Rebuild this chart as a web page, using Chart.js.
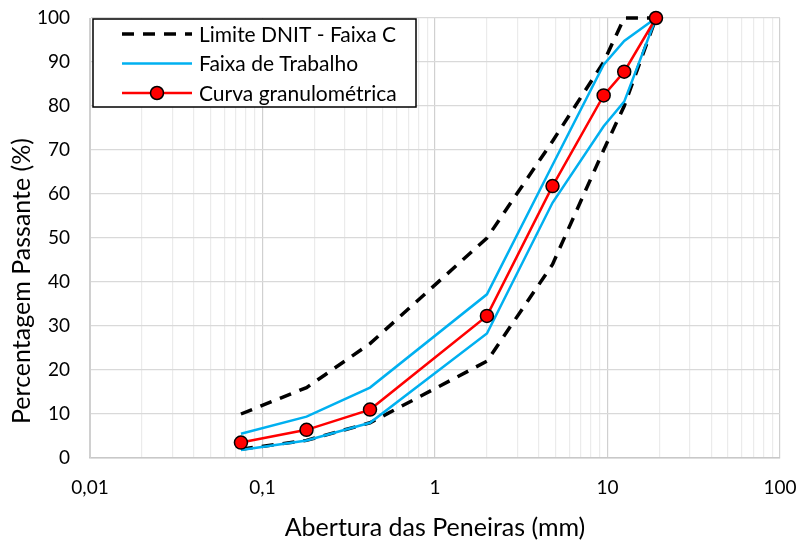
<!DOCTYPE html>
<html>
<head>
<meta charset="utf-8">
<script src="https://cdn.jsdelivr.net/npm/chart.js@4.4.1/dist/chart.umd.min.js"></script>
<style>
  html, body { margin: 0; padding: 0; background: #fff; }
  #wrap { width: 800px; height: 540px; }
</style>
</head>
<body>
<div id="wrap"><canvas id="chart"></canvas></div>
<script>
// Aberturas das peneiras (mm)
var sieves = [0.075, 0.18, 0.42, 2.0, 4.8, 9.5, 12.5, 19.1];
// Limite DNIT - Faixa C
var dnitMin = [2, 4, 8, 22, 44, 70, 80, 100];
var dnitMax = [10, 16, 26, 50, 72, 90, 100, 100];
// Faixa de Trabalho
var faixaMin = [1.8, 4.0, 8.0, 28.3, 58.0, 75.4, 81.0, 100];
var faixaMax = [5.5, 9.4, 16.0, 37.2, 66.6, 89.4, 94.8, 100];
// Curva granulométrica
var curva = [3.5, 6.4, 11.0, 32.3, 61.8, 82.4, 87.8, 100];

var xDecades = [0.01, 0.1, 1, 10, 100];
var xTickLabels = ['0,01', '0,1', '1', '10', '100'];
var yTitle = 'Percentagem Passante (%)';

var FONT = 'Lato, "Open Sans", sans-serif';

function pts(ys) {
  return sieves.map(function (x, i) { return { x: x, y: ys[i] }; });
}

var dashed = { borderColor: '#000', borderWidth: 3.5, borderDash: [12, 9] };
var blue = { borderColor: '#00B0F0', borderWidth: 2.5 };

function line(label, ys, style, order, legendPos) {
  return Object.assign({
    label: label,
    data: pts(ys),
    legendPos: legendPos,
    pointRadius: 0,
    fill: false,
    tension: 0,
    clip: false,
    order: order
  }, style);
}

// Legend drawn inside the plot, top-left, like the original
var insideLegend = {
  id: 'insideLegend',
  afterDraw: function (chart) {
    var ctx = chart.ctx, area = chart.chartArea;
    var items = chart.data.datasets
      .filter(function (d) { return d.legendPos != null; })
      .sort(function (a, b) { return a.legendPos - b.legendPos; });
    var x0 = area.left + 3, y0 = area.top + 1, w = 323, h = 88;
    ctx.save();
    ctx.fillStyle = '#fff';
    ctx.fillRect(x0, y0, w, h);
    ctx.strokeStyle = '#000';
    ctx.lineWidth = 1.5;
    ctx.setLineDash([]);
    ctx.strokeRect(x0, y0, w, h);
    items.forEach(function (d, i) {
      var cy = y0 + 15 + i * 29.5;
      ctx.beginPath();
      ctx.strokeStyle = d.borderColor;
      ctx.lineWidth = d.borderWidth;
      ctx.setLineDash(d.borderDash || []);
      ctx.moveTo(x0 + 29, cy);
      ctx.lineTo(x0 + 99, cy);
      ctx.stroke();
      ctx.setLineDash([]);
      if (d.legendMarker) {
        ctx.beginPath();
        ctx.arc(x0 + 64, cy, d.pointRadius, 0, Math.PI * 2);
        ctx.fillStyle = d.pointBackgroundColor;
        ctx.fill();
        ctx.lineWidth = d.pointBorderWidth;
        ctx.strokeStyle = d.pointBorderColor;
        ctx.stroke();
      }
      ctx.fillStyle = '#000';
      ctx.font = '21px ' + FONT;
      ctx.textBaseline = 'middle';
      ctx.textAlign = 'left';
      ctx.fillText(d.label, x0 + 106, cy + 1);
    });
    ctx.restore();
  }
};

// Y title sits a bit lower than the plot centre in the original
var yAxisTitle = {
  id: 'yAxisTitle',
  afterDraw: function (chart) {
    var ctx = chart.ctx;
    ctx.save();
    ctx.translate(22, 281);
    ctx.rotate(-Math.PI / 2);
    ctx.font = '25px ' + FONT;
    ctx.fillStyle = '#000';
    ctx.textAlign = 'center';
    ctx.textBaseline = 'middle';
    ctx.fillText(yTitle, 0, 0);
    ctx.restore();
  }
};

new Chart(document.getElementById('chart'), {
  type: 'line',
  data: {
    datasets: [
      {
        label: 'Curva granulométrica',
        data: pts(curva),
        legendPos: 2,
        legendMarker: true,
        borderColor: '#FF0000',
        borderWidth: 2.5,
        pointRadius: 6.5,
        pointBackgroundColor: '#FF0000',
        pointBorderColor: '#000',
        pointBorderWidth: 1.5,
        tension: 0,
        clip: false,
        order: 1
      },
      line('Faixa de Trabalho', faixaMax, blue, 2, 1),
      line('Faixa de Trabalho', faixaMin, blue, 2, null),
      line('Limite DNIT - Faixa C', dnitMax, dashed, 3, 0),
      line('Limite DNIT - Faixa C', dnitMin, dashed, 3, null)
    ]
  },
  options: {
    responsive: true,
    maintainAspectRatio: false,
    animation: false,
    layout: { padding: { left: 0, right: 20, top: 18, bottom: 0 } },
    plugins: {
      legend: { display: false },
      tooltip: { enabled: false }
    },
    scales: {
      x: {
        type: 'logarithmic',
        min: 0.01,
        max: 100,
        afterBuildTicks: function (scale) {
          var ticks = [];
          xDecades.forEach(function (d, i) {
            ticks.push({ value: d, major: true });
            if (i < xDecades.length - 1) {
              for (var k = 2; k <= 9; k++) ticks.push({ value: d * k, major: false });
            }
          });
          scale.ticks = ticks;
        },
        afterFit: function (scale) {
          scale.height = 82;
          scale.paddingLeft = 0;
          scale.paddingRight = 0;
        },
        ticks: {
          autoSkip: false,
          maxRotation: 0,
          padding: 18,
          color: '#000',
          font: { family: FONT, size: 19 },
          callback: function (v) {
            var i = xDecades.findIndex(function (d) { return Math.abs(d - v) < d * 1e-6; });
            return i >= 0 ? xTickLabels[i] : '';
          }
        },
        grid: {
          drawTicks: false,
          lineWidth: 1.2,
          color: function (c) { return c.tick && c.tick.major ? '#d0d0d0' : '#ebebeb'; }
        },
        border: { color: '#c8c8c8', width: 1.5 },
        title: {
          display: true,
          text: 'Abertura das Peneiras (mm)',
          color: '#000',
          font: { family: FONT, size: 25, lineHeight: 1 },
          padding: { top: 0, bottom: 0 }
        }
      },
      y: {
        min: 0,
        max: 100,
        afterFit: function (scale) {
          scale.width = 90;
          scale.paddingTop = 0;
          scale.paddingBottom = 0;
        },
        ticks: {
          stepSize: 10,
          padding: 20,
          color: '#000',
          font: { family: FONT, size: 19 }
        },
        grid: { drawTicks: false, color: '#d9d9d9', lineWidth: 1.2 },
        border: { color: '#d0d0d0' }
      }
    }
  },
  plugins: [insideLegend, yAxisTitle]
});
</script>
</body>
</html>
